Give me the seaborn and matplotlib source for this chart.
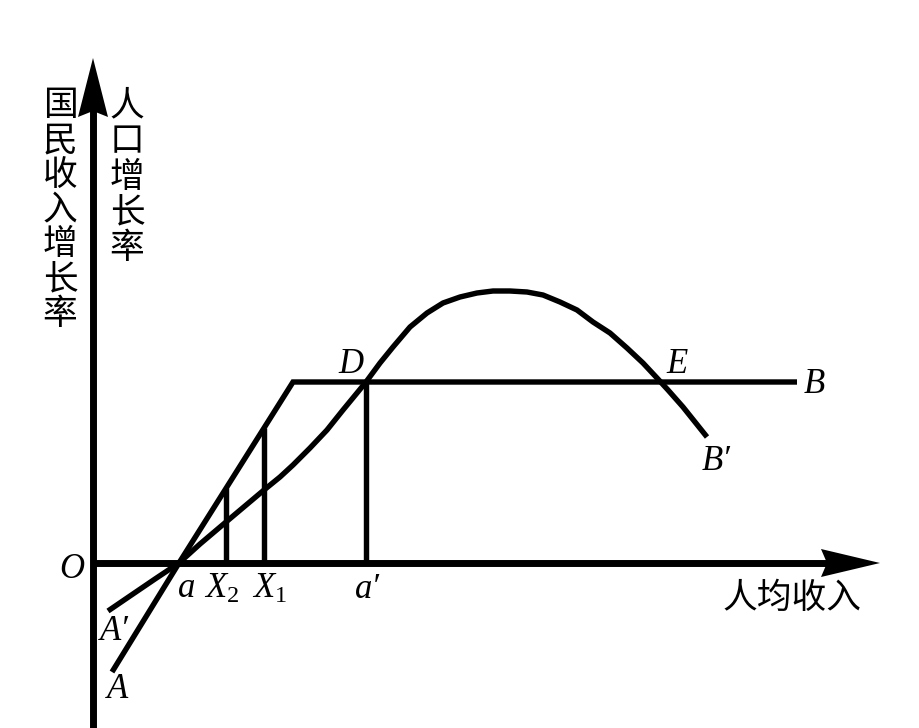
import numpy as np
import pandas as pd
import matplotlib
matplotlib.use("Agg")
import matplotlib.pyplot as plt
import seaborn as sns

# ---- data (abstract diagram units, origin O at (0,0)) ----
income_x = [19, 86, 200, 704]          # 国民收入增长率: A -> a -> kink -> B
income_y = [-109, 0, 181, 181]

pop_x = [15, 37, 62, 86, 107, 133, 152, 171, 187, 200, 217, 234, 250, 264, 273,
         287, 300, 317, 334, 350, 367, 384, 400, 417, 434, 450, 467, 484, 500,
         517, 534, 550, 564, 575, 590, 614]
pop_y = [-48, -33, -16, 0, 19, 41, 57, 73, 86, 98, 115, 133, 153, 170, 181,
         200, 216, 236, 250, 260, 266, 270, 272, 272, 271, 268, 261, 253, 241,
         230, 215, 200, 185, 173, 156, 126]

drop_x = [133, 171, 273]                # X2, X1, a'

sns.set_theme(style="white")
plt.rcParams['font.family'] = ['Noto Sans CJK SC', 'DejaVu Sans']
plt.rcParams['mathtext.fontset'] = 'custom'
plt.rcParams['mathtext.it'] = 'Liberation Serif:italic'
plt.rcParams['mathtext.rm'] = 'Liberation Serif'

fig = plt.figure(figsize=(9.2, 7.28), dpi=100)
ax = fig.add_axes([0, 0, 1, 1])
ax.set_xlim(-93, 827)
ax.set_ylim(-165, 563)
ax.axis('off')

LW = 3.9
AXLW = 5.0

# axes with arrowheads
ax.plot([0, 0], [-170, 455], color='black', lw=AXLW, solid_capstyle='butt')
ax.fill([0, -15, 0, 15], [505, 446, 452, 446], color='black', lw=0)
ax.plot([0, 735], [0, 0], color='black', lw=AXLW, solid_capstyle='butt')
ax.fill([787, 728, 734, 728], [0, -14, 0, 14], color='black', lw=0)

# curves
inc = pd.DataFrame({'x': income_x, 'y': income_y})
pop = pd.DataFrame({'x': pop_x, 'y': pop_y})
sns.lineplot(data=inc, x='x', y='y', sort=False, color='black', lw=LW, ax=ax,
             solid_joinstyle='miter', solid_capstyle='butt')
sns.lineplot(data=pop, x='x', y='y', sort=False, color='black', lw=LW, ax=ax,
             solid_capstyle='butt', solid_joinstyle='round')

# drop lines
tops = np.interp(drop_x, income_x, income_y)
tops[-1] = np.interp(drop_x[-1], pop_x, pop_y)
for xv, tv in zip(drop_x, tops):
    ax.plot([xv, xv], [0, tv], color='black', lw=LW, solid_capstyle='butt')

# italic letter labels
serif = dict(family=['Liberation Serif', 'DejaVu Serif'], style='italic',
             fontsize=25, color='black', ha='center', va='baseline')
ax.text(-21, -15, 'O', **serif)
ax.text(94, -34, 'a', **serif)
ax.text(129, -35, r'$X_{\mathrm{2}}$', **serif)
ax.text(177, -35, r'$X_{\mathrm{1}}$', **serif)
ax.text(274, -35, 'a\u2032', **serif)
ax.text(21, -77, 'A\u2032', **serif)
ax.text(25, -135, 'A', **serif)
ax.text(258, 190, 'D', **serif)
ax.text(584, 190, 'E', **serif)
ax.text(721, 170, 'B', **serif)
ax.text(623, 93, 'B\u2032', **serif)

# Chinese labels
cjk = dict(family=['Noto Sans CJK SC', 'DejaVu Sans'], fontsize=25,
           color='black', ha='center', va='center')
for i, ch in enumerate('国民收入增长率'):
    ax.text(-33, 457 - i * 34.7, ch, **cjk)
for i, ch in enumerate('人口增长率'):
    ax.text(34, 457 - i * 35.7, ch, **cjk)
ax.text(699, -35, '人均收入', **cjk)

fig.savefig('out.png', dpi=100)
